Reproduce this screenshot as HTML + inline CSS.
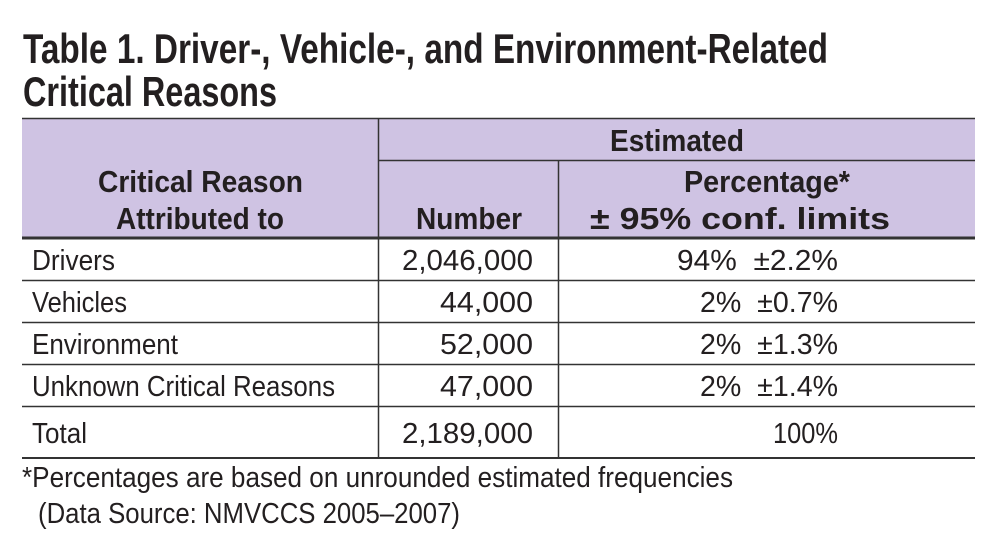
<!DOCTYPE html>
<html><head><meta charset="utf-8"><style>
html,body{margin:0;padding:0;background:#fff;}
svg{display:block;}
text{font-family:"Liberation Sans Narrow","Liberation Sans",sans-serif;fill:#231f20;}
.b{font-weight:bold;}
</style></head><body>
<svg width="998" height="550" viewBox="0 0 998 550" xmlns="http://www.w3.org/2000/svg">
<rect x="22" y="118" width="953" height="120" fill="#cfc3e3"/>
<g stroke="#333" fill="none">
<line x1="22" y1="118.5" x2="975" y2="118.5" stroke-width="1.5"/>
<line x1="378.5" y1="118" x2="378.5" y2="458" stroke-width="1.5"/>
<line x1="378" y1="160.5" x2="975" y2="160.5" stroke-width="1.5"/>
<line x1="558.5" y1="160" x2="558.5" y2="458" stroke-width="1.5"/>
<line x1="22" y1="238" x2="975" y2="238" stroke-width="3"/>
<line x1="22" y1="280.5" x2="975" y2="280.5" stroke-width="1.5"/>
<line x1="22" y1="322.5" x2="975" y2="322.5" stroke-width="1.5"/>
<line x1="22" y1="364.5" x2="975" y2="364.5" stroke-width="1.5"/>
<line x1="22" y1="406.5" x2="975" y2="406.5" stroke-width="1.5"/>
<line x1="22" y1="458" x2="975" y2="458" stroke-width="2"/>
</g>
<text class="b" x="23" y="63" font-size="42" textLength="805" lengthAdjust="spacingAndGlyphs">Table 1. Driver-, Vehicle-, and Environment-Related</text>
<text class="b" x="23" y="106" font-size="42" textLength="254" lengthAdjust="spacingAndGlyphs">Critical Reasons</text>
<text class="b" x="610" y="151" font-size="31" textLength="134" lengthAdjust="spacingAndGlyphs">Estimated</text>
<text class="b" x="98" y="192" font-size="31" textLength="205" lengthAdjust="spacingAndGlyphs">Critical Reason</text>
<text class="b" x="116" y="229" font-size="31" textLength="168" lengthAdjust="spacingAndGlyphs">Attributed to</text>
<text class="b" x="416" y="229" font-size="31" textLength="106" lengthAdjust="spacingAndGlyphs">Number</text>
<text class="b" x="684" y="192" font-size="31" textLength="166" lengthAdjust="spacingAndGlyphs">Percentage*</text>
<text class="b" x="590" y="229" font-size="31" textLength="300" lengthAdjust="spacingAndGlyphs">± 95% conf. limits</text>
<g font-size="29">
<text x="32" y="270" textLength="83" lengthAdjust="spacingAndGlyphs">Drivers</text>
<text x="402" y="270" textLength="131" lengthAdjust="spacingAndGlyphs">2,046,000</text>
<text x="677" y="270" textLength="161" lengthAdjust="spacingAndGlyphs">94%&#160; ±2.2%</text>
<text x="32" y="312" textLength="95" lengthAdjust="spacingAndGlyphs">Vehicles</text>
<text x="440" y="312" textLength="93" lengthAdjust="spacingAndGlyphs">44,000</text>
<text x="700" y="312" textLength="138" lengthAdjust="spacingAndGlyphs">2%&#160; ±0.7%</text>
<text x="32" y="354" textLength="146" lengthAdjust="spacingAndGlyphs">Environment</text>
<text x="440" y="354" textLength="93" lengthAdjust="spacingAndGlyphs">52,000</text>
<text x="700" y="354" textLength="138" lengthAdjust="spacingAndGlyphs">2%&#160; ±1.3%</text>
<text x="32" y="396" textLength="303" lengthAdjust="spacingAndGlyphs">Unknown Critical Reasons</text>
<text x="440" y="396" textLength="93" lengthAdjust="spacingAndGlyphs">47,000</text>
<text x="700" y="396" textLength="138" lengthAdjust="spacingAndGlyphs">2%&#160; ±1.4%</text>
<text x="32" y="443" textLength="55" lengthAdjust="spacingAndGlyphs">Total</text>
<text x="402" y="443" textLength="131" lengthAdjust="spacingAndGlyphs">2,189,000</text>
<text x="773" y="443" textLength="65" lengthAdjust="spacingAndGlyphs">100%</text>
<text x="22" y="487" textLength="711" lengthAdjust="spacingAndGlyphs">*Percentages are based on unrounded estimated frequencies</text>
<text x="38" y="523" textLength="422" lengthAdjust="spacingAndGlyphs">(Data Source: NMVCCS 2005–2007)</text>
</g>
</svg>
</body></html>
